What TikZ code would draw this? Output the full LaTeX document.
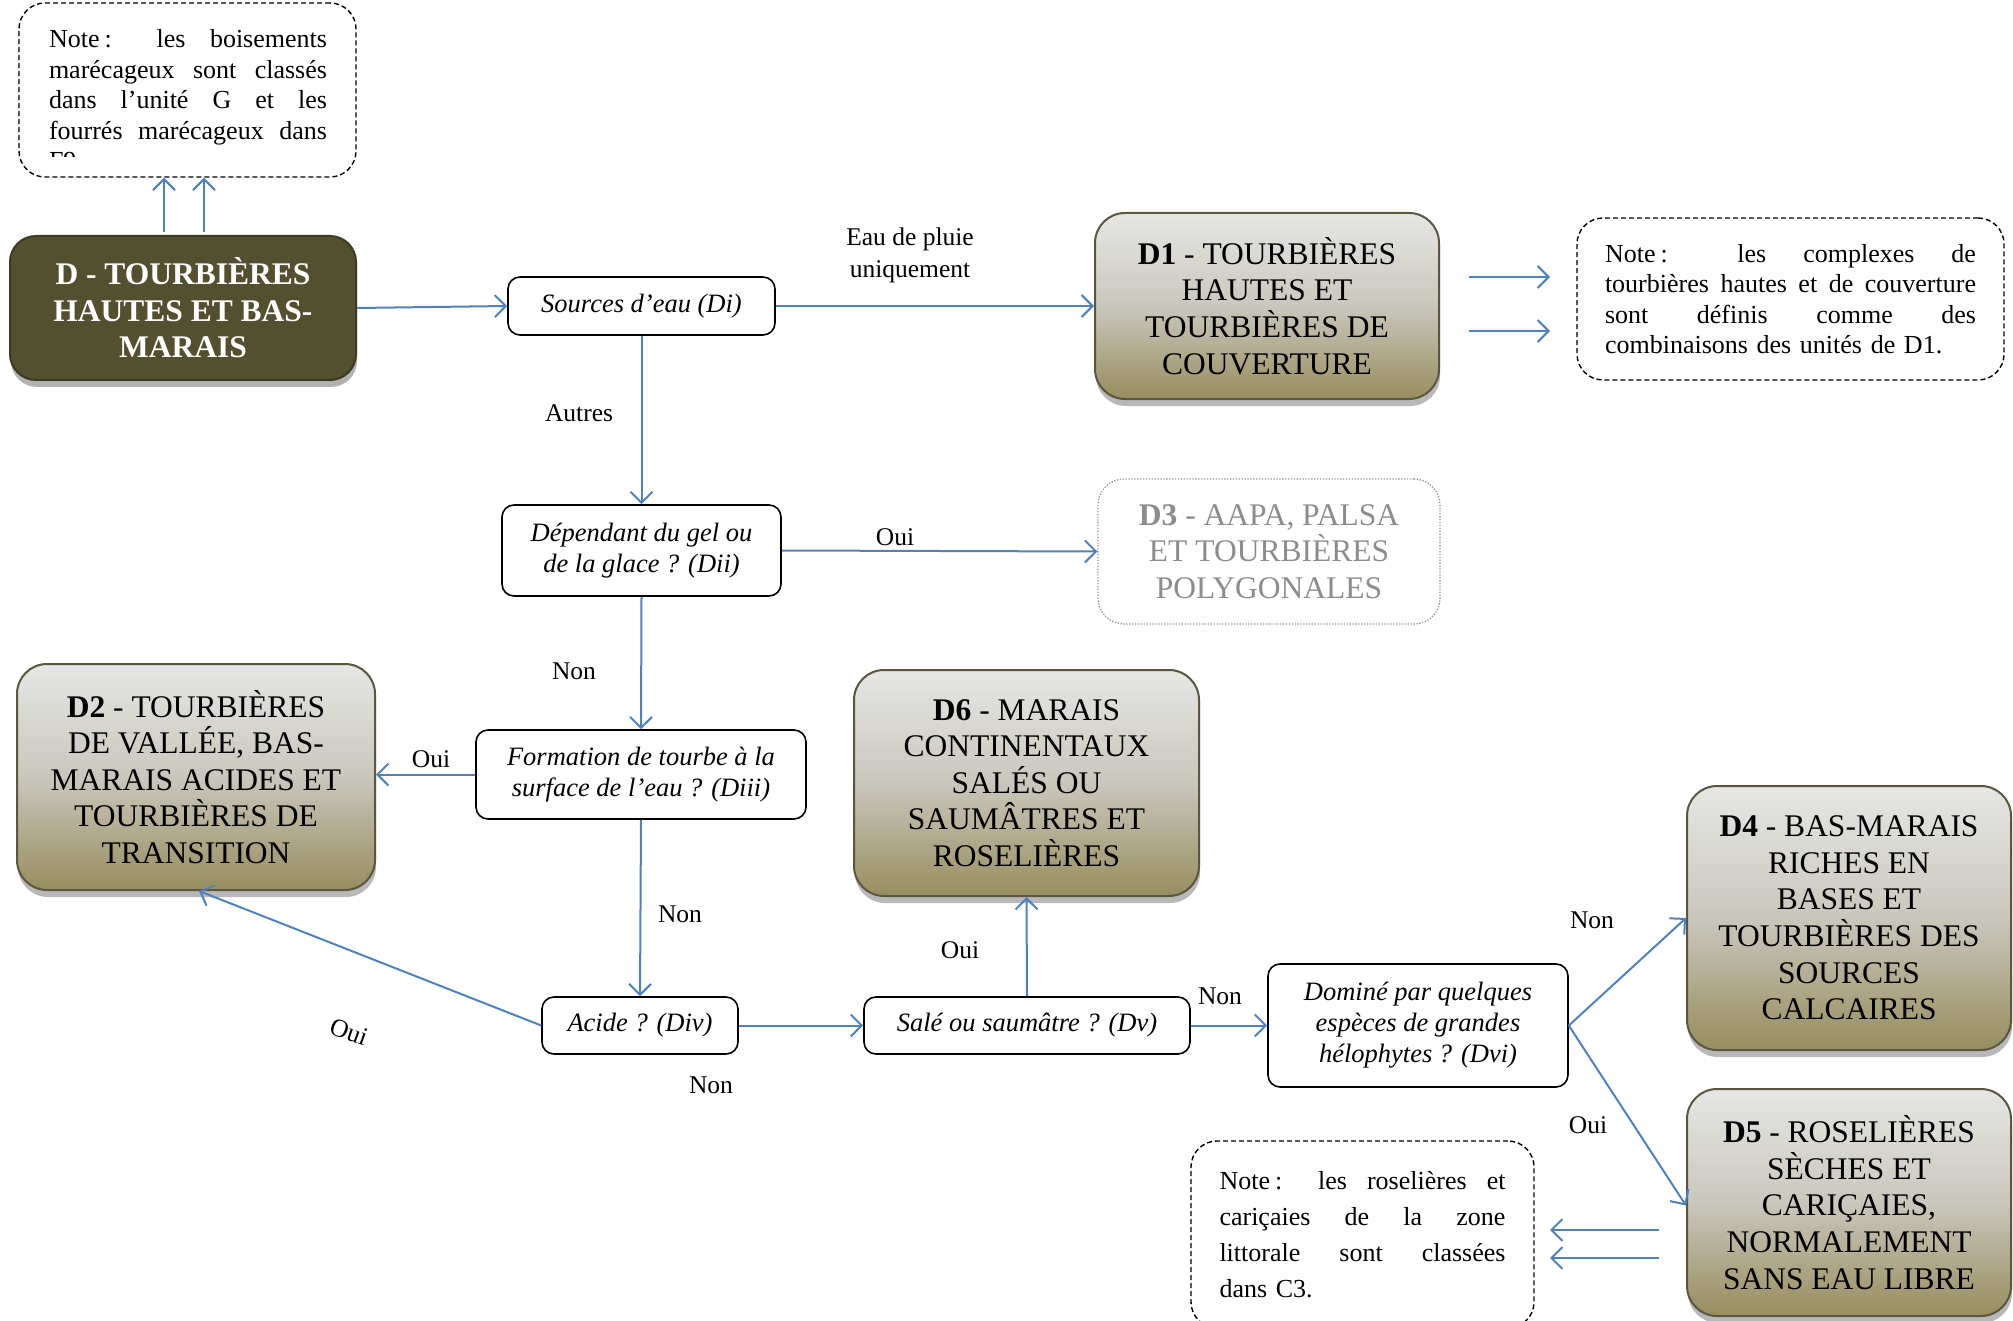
\documentclass[tikz,border=0pt]{standalone}
\usepackage{fontspec}
\setmainfont{Liberation Serif}
\usetikzlibrary{arrows.meta,shadows,calc}
\definecolor{lineblue}{HTML}{4F81BD}
\definecolor{darkfill}{HTML}{535030}
\definecolor{darkborder}{HTML}{3C3A22}
\definecolor{gtop}{HTML}{E6E6E4}
\definecolor{gmid}{HTML}{C9C7BD}
\definecolor{gbot}{HTML}{978D5E}
\definecolor{boxborder}{HTML}{5A5640}
\definecolor{greytext}{HTML}{8C8C8C}
\newcommand\jline[2]{{\spaceskip=0pt\xspaceskip=0pt\makebox[#1][s]{#2}}}
\begin{document}
\begin{tikzpicture}[x=1pt,y=-1pt,
  arr/.style={draw=lineblue, line width=2pt, -{Straight Barb[length=11pt,width=22pt,line width=2pt]}},
  qbox/.style={draw=black, line width=1.6pt, rounded corners=12pt, fill=white,
     font=\fontsize{26.5}{31}\selectfont\itshape, align=center, inner sep=0pt},
  bigbox/.style={draw=boxborder, line width=2pt, rounded corners=30pt,
     top color=gtop, bottom color=gbot, middle color=gmid,
     drop shadow={shadow xshift=1pt, shadow yshift=-7pt, opacity=0.28, fill=black},
     align=center, font=\fontsize{31.5}{36.6}\selectfont, inner sep=0pt},
  lbl/.style={font=\fontsize{25.5}{32}\selectfont, inner sep=0pt, align=center},
  notebox/.style={draw=black, line width=1.4pt, dash pattern=on 5pt off 3pt, rounded corners=26pt,
     font=\fontsize{26}{30.5}\selectfont, align=left, inner sep=0pt},
]
\useasboundingbox (0,0) rectangle (2013,1321);
\clip (0,0) rectangle (2013,1321);

% top-left note (text clipped)
\node[notebox, minimum width=337pt, minimum height=174pt] (N0) at (187.5,90) {};
\begin{scope}
\clip (19,3) rectangle (356,157);
\node[font=\fontsize{26}{30.5}\selectfont, align=left, inner sep=0pt, text width=278pt] (N0t) at (188,100)
 {\jline{278pt}{Note\kern5pt: les boisements}\\
  \jline{278pt}{marécageux sont classés}\\
  \jline{278pt}{dans l’unité G et les}\\
  \jline{278pt}{fourrés marécageux dans}\\
  F9.};
\end{scope}

% main node
\node[draw=darkborder, line width=2pt, rounded corners=26pt, fill=darkfill,
  drop shadow={shadow xshift=1pt, shadow yshift=-7pt, opacity=0.3, fill=black},
  text=white, align=center, inner sep=0pt,
  font=\fontsize{31.5}{36.6}\selectfont\bfseries,
  minimum width=346pt, minimum height=144pt] (D) at (183,308)
  {D - TOURBIÈRES\\HAUTES ET BAS-\\MARAIS};

% question boxes
\node[qbox, minimum width=267pt, minimum height=58pt] (Di) at (641.5,306) {Sources d’eau (Di)};
\node[qbox, minimum width=279pt, minimum height=91pt] (Dii) at (641.5,550.5) {Dépendant du gel ou\\de la glace ? (Dii)};
\node[qbox, minimum width=330pt, minimum height=89pt] (Diii) at (641,774.5) {Formation de tourbe à la\\surface de l’eau ? (Diii)};
\node[qbox, minimum width=196pt, minimum height=57pt] (Div) at (640,1025.5) {Acide ? (Div)};
\node[qbox, minimum width=326pt, minimum height=57pt] (Dv) at (1027,1025.5) {Salé ou saumâtre ? (Dv)};
\node[qbox, minimum width=300pt, minimum height=123pt] (Dvi) at (1418,1025.5) {Dominé par quelques\\espèces de grandes\\hélophytes ? (Dvi)};

% result boxes
\node[bigbox, minimum width=344pt, minimum height=186pt] (D1) at (1267,306)
  {\textbf{D1} - TOURBIÈRES\\HAUTES ET\\TOURBIÈRES DE\\COUVERTURE};
\node[draw=gray!85, line width=1.3pt, dash pattern=on 1.3pt off 1.6pt, rounded corners=26pt, text=greytext,
  align=center, inner sep=0pt, font=\fontsize{31.5}{36.6}\selectfont,
  minimum width=342pt, minimum height=145pt] (D3) at (1269,551.5)
  {\textbf{D3} - AAPA, PALSA\\ET TOURBIÈRES\\POLYGONALES};
\node[bigbox, minimum width=358pt, minimum height=226pt] (D2) at (196,777)
  {\textbf{D2} - TOURBIÈRES\\DE VALLÉE, BAS-\\MARAIS ACIDES ET\\TOURBIÈRES DE\\TRANSITION};
\node[bigbox, minimum width=345pt, minimum height=226pt] (D6) at (1026.5,783)
  {\textbf{D6} - MARAIS\\CONTINENTAUX\\SALÉS OU\\SAUMÂTRES ET\\ROSELIÈRES};
\node[bigbox, minimum width=324pt, minimum height=264pt] (D4) at (1849,918)
  {\textbf{D4} - BAS-MARAIS\\RICHES EN\\BASES ET\\TOURBIÈRES DES\\SOURCES\\CALCAIRES};
\node[bigbox, minimum width=324pt, minimum height=227pt] (D5) at (1849,1202.5)
  {\textbf{D5} - ROSELIÈRES\\SÈCHES ET\\CARIÇAIES,\\NORMALEMENT\\SANS EAU LIBRE};

% notes
\node[notebox, text width=371pt, minimum width=427pt, minimum height=162pt] (N1) at (1790.5,299)
 {\jline{371pt}{Note\kern5pt: les complexes de}\\
  \jline{371pt}{tourbières hautes et de couverture}\\
  \jline{371pt}{sont définis comme des}\\
  combinaisons des unités de D1.};
\node[notebox, font=\fontsize{26}{36}\selectfont, text width=286pt, minimum width=343pt, minimum height=187pt] (N5) at (1362.5,1234.5)
 {\jline{286pt}{Note\kern5pt: les roselières et}\\
  \jline{286pt}{cariçaies de la zone}\\
  \jline{286pt}{littorale sont classées}\\
  dans C3.};

% free-end coordinates for note arrows
\coordinate (a1s) at (1469,277); \coordinate (a1e) at (1550,277);
\coordinate (a2s) at (1469,331); \coordinate (a2e) at (1550,331);
\coordinate (b1s) at (1659,1230); \coordinate (b1e) at (1550,1230);
\coordinate (b2s) at (1659,1258); \coordinate (b2e) at (1550,1258);

% connectors
\draw[arr] ([xshift=-19pt,yshift=3pt]D.north) -- ([xshift=-19pt]D.north |- N0.south);
\draw[arr] ([xshift=21pt,yshift=3pt]D.north) -- ([xshift=21pt]D.north |- N0.south);
\draw[arr] (D.east) -- (Di.west);
\draw[arr] (Di.east) -- (D1.west);
\draw[arr] (a1s) -- (a1e);
\draw[arr] (a2s) -- (a2e);
\draw[arr] (Di.south) -- (Dii.north);
\draw[arr] (Dii.east) -- (D3.west);
\draw[arr] (Dii.south) -- (Diii.north);
\draw[arr] (Diii.west) -- (Diii.west -| D2.east);
\draw[arr] (Diii.south) -- (Div.north);
\draw[arr] (Div.west) -- ([xshift=3pt]D2.south);
\draw[arr] (Div.east) -- (Dv.west);
\draw[arr] (Dv.north) -- (D6.south);
\draw[arr] (Dv.east) -- (Dvi.west);
\draw[arr] (Dvi.east) -- (D4.west);
\draw[arr] (Dvi.east) -- ([yshift=-3pt]D5.west);
\draw[arr] (b1s) -- (b1e);
\draw[arr] (b2s) -- (b2e);

% labels
\node[lbl] (l1) at (910,255) {Eau de pluie\\uniquement};
\node[lbl] (l2) at (579,413) {Autres};
\node[lbl] (l3) at (895,537) {Oui};
\node[lbl] (l4) at (574,671) {Non};
\node[lbl] (l5) at (431,759) {Oui};
\node[lbl] (l6) at (680,914) {Non};
\node[lbl, rotate=-20] (l7) at (349,1032) {Oui};
\node[lbl] (l8) at (711,1085) {Non};
\node[lbl] (l9) at (960,950) {Oui};
\node[lbl] (l10) at (1220,996) {Non};
\node[lbl] (l11) at (1592,920) {Non};
\node[lbl] (l12) at (1588,1125) {Oui};
\end{tikzpicture}
\end{document}
